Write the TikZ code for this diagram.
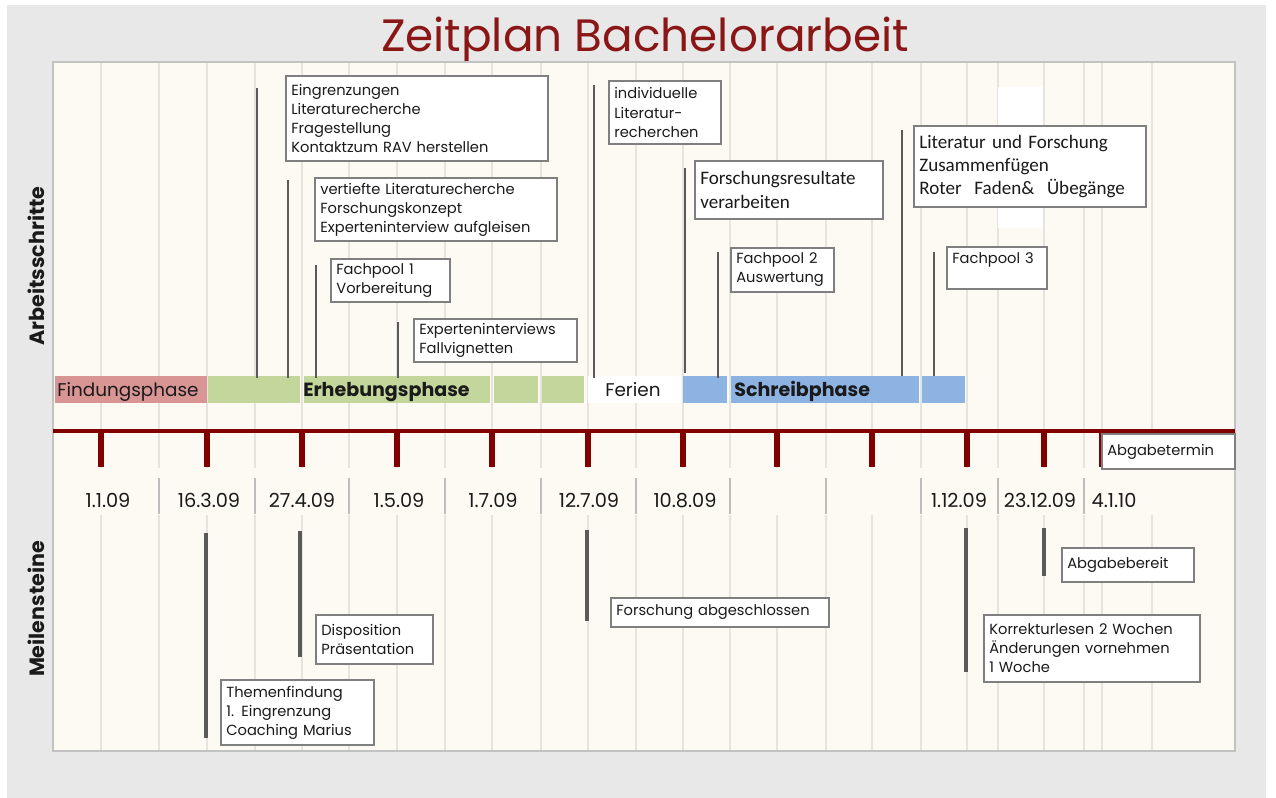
\documentclass[tikz,border=0pt]{standalone}
\usepackage{fontspec}
\setmainfont{Poppins}
\newfontfamily\calfont{Carlito}
\definecolor{bggray}{HTML}{E8E8E8}
\definecolor{cream}{HTML}{FCFAF3}
\definecolor{panelborder}{HTML}{C2C2C2}
\definecolor{gridc}{HTML}{E6E4DF}
\definecolor{sepc}{HTML}{BDBDBD}
\definecolor{axisc}{HTML}{800000}
\definecolor{titlec}{HTML}{8B1616}
\definecolor{pinkc}{HTML}{D99594}
\definecolor{greenc}{HTML}{C3D69B}
\definecolor{bluec}{HTML}{8DB3E2}
\definecolor{linec}{HTML}{5A5A5A}
\definecolor{boxc}{HTML}{7F7F7F}
\definecolor{textc}{HTML}{1A1A1A}
\begin{document}
\begin{tikzpicture}[x=0.75pt,y=-0.75pt,
  tbox/.style={draw=boxc, line width=1.5pt, fill=white, anchor=north west,
    inner xsep=4pt, inner ysep=2pt, align=left, text=textc,
    font=\fontsize{11}{14.3}\selectfont},
  cbox/.style={tbox, font=\calfont\fontsize{14.3}{17.6}\selectfont},
  conn/.style={draw=linec, line width=2pt},
  datelbl/.style={anchor=base, text=textc, font=\fontsize{14.5}{16}\selectfont},
  phasetxt/.style={anchor=base west, inner sep=0pt, text=textc, font=\fontsize{13.8}{15}\selectfont},
  phasebold/.style={phasetxt, font=\bfseries\fontsize{14.3}{15}\selectfont},
  sidelbl/.style={rotate=90, text=textc, font=\bfseries\fontsize{15.5}{17}\selectfont}]
\useasboundingbox (0,0) rectangle (1276,798);
\fill[white] (0,0) rectangle (1276,798);
\fill[bggray] (7,5) rectangle (1266,798);
% title
\node[anchor=base, text=titlec, font=\fontsize{34}{40}\selectfont] (title) at (645,52) {Zeitplan Bachelorarbeit};
% panel
\fill[cream] (53,62) rectangle (1235,751);
% grid lines
\foreach \x in {101,159,207,255,302,349,397,445,492,541,588,636,683,730,777,826,872,921,967,998,1044,1084,1102,1152}
  \draw[gridc, line width=2pt] (\x,63) -- (\x,750);
\fill[white] (998,87) rectangle (1043,228);
% date row cover
\fill[cream] (55,468) rectangle (1233,515);
\foreach \x in {159,255,349,445,541,636,730,826,921,998,1084}
  \draw[sepc, line width=1.6pt] (\x,478) -- (\x,514);
\draw[panelborder, line width=2.2pt] (53,62) rectangle (1235,751);
% side labels
\node[sidelbl] (arb) at (36,266) {Arbeitsschritte};
\node[sidelbl] (mei) at (36,609) {Meilensteine};
% phase bar
\fill[pinkc] (55,376) rectangle (207,403);
\fill[greenc] (208,376) rectangle (300,403);
\fill[greenc] (304,376) rectangle (490,403);
\fill[greenc] (494,376) rectangle (538,403);
\fill[greenc] (542,376) rectangle (584,403);
\fill[white] (588,376) rectangle (680,403);
\fill[bluec] (683,376) rectangle (727,403);
\fill[bluec] (731,376) rectangle (919,403);
\fill[bluec] (922,376) rectangle (965,403);
\node[phasetxt] (pfind) at (57,396) {Findungsphase};
\node[phasebold] (perh) at (303,396) {Erhebungsphase};
\node[phasetxt] (pfer) at (605,396) {Ferien};
\node[phasebold] (pschr) at (734,396) {Schreibphase};
% axis and ticks
\draw[axisc, line width=3.6pt] (53,431) -- (1235,431);
\foreach \x in {101,207,302,397,492,588,683,777,872,967,1044,1102}
  \draw[axisc, line width=3.8pt] (\x,431) -- (\x,467);
% dates
\node[datelbl] (d1) at (108,507) {1.1.09};
\node[datelbl] (d2) at (209,507) {16.3.09};
\node[datelbl] (d3) at (302,507) {27.4.09};
\node[datelbl] (d4) at (399,507) {1.5.09};
\node[datelbl] (d5) at (493,507) {1.7.09};
\node[datelbl] (d6) at (589,507) {12.7.09};
\node[datelbl] (d7) at (685,507) {10.8.09};
\node[datelbl] (d8) at (959,507) {1.12.09};
\node[datelbl] (d9) at (1040,507) {23.12.09};
\node[datelbl] (d10) at (1114,507) {4.1.10};
% upper connectors
\coordinate (c1t) at (257,88);  \coordinate (c1b) at (257,378);
\coordinate (c2t) at (288,180); \coordinate (c2b) at (288,378);
\coordinate (c3t) at (316,265); \coordinate (c3b) at (316,378);
\coordinate (c4t) at (398,322); \coordinate (c4b) at (398,378);
\coordinate (c5t) at (594,85);  \coordinate (c5b) at (594,378);
\coordinate (c6t) at (685,168); \coordinate (c6b) at (685,373);
\coordinate (c7t) at (718,252); \coordinate (c7b) at (718,378);
\coordinate (c8t) at (902,130); \coordinate (c8b) at (902,376);
\coordinate (c9t) at (934,252); \coordinate (c9b) at (934,376);
\foreach \i in {1,...,9} \draw[conn] (c\i t) -- (c\i b);
% lower connectors
\coordinate (m1t) at (206,533);  \coordinate (m1b) at (206,738);
\coordinate (m2t) at (300,531);  \coordinate (m2b) at (300,657);
\coordinate (m3t) at (587,530);  \coordinate (m3b) at (587,621);
\coordinate (m4t) at (966,528);  \coordinate (m4b) at (966,672);
\coordinate (m5t) at (1044,528); \coordinate (m5b) at (1044,576);
\foreach \i in {1,...,5} \draw[conn, line width=2.3pt] (m\i t) -- (m\i b);
% upper boxes
\node[tbox, minimum width=196.5pt, minimum height=63.75pt, text width=188.5pt] (b1) at (285,75)
  {Eingrenzungen\\Literaturecherche\\Fragestellung\\Kontaktzum RAV herstellen};
\node[tbox, minimum width=181.5pt, minimum height=47.25pt, text width=173.5pt] (b2) at (314,177)
  {vertiefte Literaturecherche\\Forschungskonzept\\Experteninterview aufgleisen};
\node[tbox, minimum width=89.25pt, minimum height=32.25pt, text width=81.25pt] (b3) at (330,258)
  {Fachpool 1\\Vorbereitung};
\node[tbox, minimum width=122.25pt, minimum height=32.25pt, text width=114.25pt] (b4) at (413,318)
  {Experteninterviews\\Fallvignetten};
\node[tbox, minimum width=84pt, minimum height=47.25pt, text width=76pt] (b5) at (608,80)
  {individuelle\\Literatur-\\recherchen};
\node[cbox, minimum width=141pt, minimum height=43.5pt, text width=133pt] (b6) at (694,160)
  {Forschungsresultate\\verarbeiten};
\node[tbox, minimum width=77.25pt, minimum height=33pt, text width=69.25pt] (b7) at (730,247)
  {Fachpool 2\\Auswertung};
\node[cbox, minimum width=174pt, minimum height=60.75pt, text width=166pt] (b8) at (913,125)
  {Literatur und Forschung\\Zusammenfügen\\Roter~ Faden\&~ Übegänge};
\node[tbox, minimum width=75pt, minimum height=31.5pt, text width=67pt] (b9) at (946,246)
  {Fachpool 3\\\mbox{}};
\node[tbox, minimum width=99.75pt, minimum height=26.25pt, text width=91.75pt] (abg) at (1101,433)
  {Abgabetermin};
% lower boxes
\node[tbox, minimum width=114.75pt, minimum height=48.75pt, text width=106.75pt] (mb1) at (220,679)
  {Themenfindung\\1. Eingrenzung\\Coaching Marius};
\node[tbox, minimum width=87.75pt, minimum height=36.75pt, text width=79.75pt] (mb2) at (315,614)
  {Disposition\\Präsentation};
\node[tbox, minimum width=163.5pt, minimum height=21.75pt, text width=155.5pt] (mb3) at (610,597)
  {Forschung abgeschlossen};
\node[tbox, minimum width=162pt, minimum height=50.25pt, text width=154pt] (mb4) at (983,614)
  {Korrekturlesen 2 Wochen\\Änderungen vornehmen\\1 Woche};
\node[tbox, minimum width=99pt, minimum height=25.5pt, text width=91pt] (mb5) at (1061,547)
  {Abgabebereit};
\end{tikzpicture}
\end{document}
